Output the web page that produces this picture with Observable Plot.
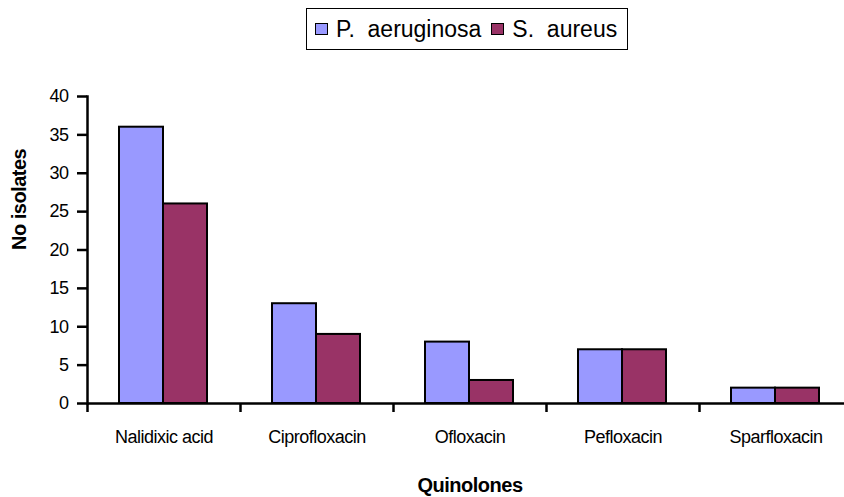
<!DOCTYPE html>
<html><head><meta charset="utf-8">
<script src="https://cdn.jsdelivr.net/npm/d3@7"></script>
<script src="https://cdn.jsdelivr.net/npm/@observablehq/plot@0.6"></script>
<style>
body{margin:0;background:#fff;}
#wrap{width:844px;height:497px;overflow:hidden;background:#fff;}
#legendRow{position:relative;height:60px;}
#legend{position:absolute;left:306px;top:8px;width:322px;height:42px;border:1.5px solid #000;box-sizing:border-box;
  font-family:"Liberation Sans",Arial,sans-serif;font-size:23px;display:flex;align-items:center;padding-left:8px;color:#000;}
.sw{display:inline-block;width:13px;height:12px;border:1.5px solid #000;box-sizing:border-box;margin-right:8px;}
.item{display:flex;align-items:center;margin-right:10px;white-space:pre;}
#chart svg text{letter-spacing:-0.5px;}
</style></head>
<body>
<div id="wrap">
<div id="legendRow"><div id="legend"></div></div>
<div id="chart"></div>
</div>
<script>
const categories = ["Nalidixic acid", "Ciprofloxacin", "Ofloxacin", "Pefloxacin", "Sparfloxacin"];
const series = ["P. aeruginosa", "S. aureus"];
const pAeruginosa = [36, 13, 8, 7, 2];
const sAureus = [26, 9, 3, 7, 2];
const colors = ["#9999FF", "#993366"];
const yTicks = [0, 5, 10, 15, 20, 25, 30, 35, 40];
const xTitle = "Quinolones";
const yTitle = "No isolates";

const dataP = categories.map((c, i) => ({category: c, series: series[0], value: pAeruginosa[i]}));
const dataS = categories.map((c, i) => ({category: c, series: series[1], value: sAureus[i]}));

const legend = document.getElementById("legend");
series.forEach((s, i) => {
  const it = document.createElement("span");
  it.className = "item";
  const sw = document.createElement("span");
  sw.className = "sw";
  sw.style.background = colors[i];
  it.appendChild(sw);
  it.appendChild(document.createTextNode(s.replace(". ", ".  ")));
  legend.appendChild(it);
});

const font = '"Liberation Sans",Arial,sans-serif';
const W = 844, H = 437, ML = 87, MR = -8;
const bw = (W - ML - MR) / categories.length;

const chart = Plot.plot({
  width: W, height: H,
  marginLeft: ML, marginRight: MR, marginTop: 36, marginBottom: 94,
  style: {fontFamily: font, background: "#fff", color: "#000", overflow: "visible"},
  x: {domain: categories, padding: 0},
  y: {domain: [0, 40]},
  color: {domain: series, range: colors},
  marks: [
    Plot.barY(dataP, {x: "category", y: "value", fill: "series", stroke: "#000", strokeWidth: 2, insetLeft: 32, insetRight: bw - 32 - 44}),
    Plot.barY(dataS, {x: "category", y: "value", fill: "series", stroke: "#000", strokeWidth: 2, insetLeft: 32 + 44, insetRight: bw - 32 - 88}),
    Plot.ruleY([0], {strokeWidth: 2.5}),
    Plot.frame({anchor: "left", strokeWidth: 2.5}),
    Plot.axisY({ticks: yTicks, tickSize: 10, tickPadding: 9, fontSize: 18, strokeWidth: 2.5, label: null}),
    Plot.axisX({tickSize: 0, tickPadding: 27, fontSize: 18, label: null}),
    Plot.axisX({tickSize: 9, dx: -bw / 2, tickFormat: () => "", strokeWidth: 2.5, label: null}),
    Plot.text([yTitle], {frameAnchor: "left", rotate: -90, dx: -68, fontSize: 20, fontWeight: "bold", lineAnchor: "middle"}),
    Plot.text([xTitle], {frameAnchor: "bottom", dy: 82, fontSize: 20, fontWeight: "bold", lineAnchor: "middle"})
  ]
});
document.getElementById("chart").appendChild(chart);
</script>
</body></html>
